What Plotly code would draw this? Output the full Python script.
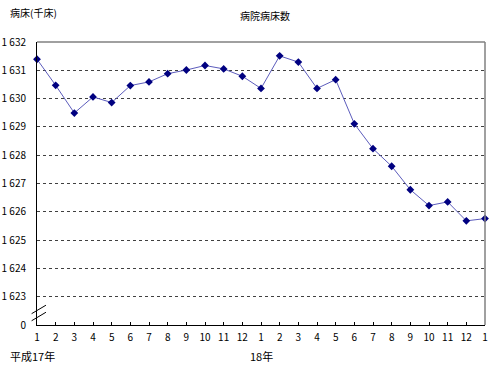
import plotly.graph_objects as go

months = ["1","2","3","4","5","6","7","8","9","10","11","12",
          "1","2","3","4","5","6","7","8","9","10","11","12","1"]
beds = [1631.39, 1630.47, 1629.49, 1630.06, 1629.86, 1630.46, 1630.59, 1630.88,
        1631.01, 1631.17, 1631.05, 1630.79, 1630.36, 1631.51, 1631.29, 1630.36,
        1630.67, 1629.11, 1628.23, 1627.61, 1626.78, 1626.22, 1626.35, 1625.68,
        1625.76]
ytick_vals = [1622, 1623, 1624, 1625, 1626, 1627, 1628, 1629, 1630, 1631, 1632]
ytick_text = ["0", "1 623", "1 624", "1 625", "1 626", "1 627", "1 628",
              "1 629", "1 630", "1 631", "1 632"]
year_labels = ["平成17年", "18年"]

xs = list(range(len(months)))
font = "Noto Sans CJK JP"

fig = go.Figure()
fig.add_trace(go.Scatter(
    x=xs, y=beds, mode="lines+markers",
    line=dict(color="#5c5cbc", width=1),
    marker=dict(symbol="diamond", size=6, color="#000080"),
    cliponaxis=False, showlegend=False,
))

fig.update_layout(
    width=493, height=370,
    margin=dict(l=37, r=8, t=42, b=45, autoexpand=False),
    plot_bgcolor="white", paper_bgcolor="white",
    font=dict(family=font, size=10, color="black"),
    xaxis=dict(
        range=[0, len(months) - 1], tickvals=xs, ticktext=months,
        showgrid=False, zeroline=False, automargin=False,
        showline=True, linecolor="black", linewidth=1,
        ticks="inside", ticklen=3, tickcolor="black",
        ticklabelstandoff=3, tickfont=dict(size=10, family=font),
    ),
    yaxis=dict(
        range=[1622, 1632], tickvals=ytick_vals, ticktext=ytick_text,
        showgrid=True, gridcolor="#404040", griddash="dot", gridwidth=1,
        zeroline=False, showline=True, linecolor="black", linewidth=1,
        automargin=False,
        ticks="", ticklabelstandoff=8, tickfont=dict(size=10, family=font),
    ),
    shapes=[
        dict(type="line", xref="paper", yref="paper", x0=0, x1=1, y0=1, y1=1,
             line=dict(color="#808080", width=1.5)),
        dict(type="line", xref="paper", yref="paper", x0=1, x1=1, y0=0, y1=1,
             line=dict(color="#808080", width=1.5)),
        dict(type="line", xref="paper", yref="paper", x0=-0.012, x1=0.02,
             y0=0.015, y1=0.045, line=dict(color="black", width=1)),
        dict(type="line", xref="paper", yref="paper", x0=-0.012, x1=0.02,
             y0=0.040, y1=0.070, line=dict(color="black", width=1)),
    ],
    annotations=[
        dict(text="病院病床数", xref="paper", yref="paper", x=0.51, y=1.0,
             yshift=27, showarrow=False, xanchor="center", yanchor="middle",
             font=dict(size=10, family=font)),
        dict(text="病床(千床)", xref="paper", yref="paper", x=-0.065, y=1.0,
             yshift=30, showarrow=False, xanchor="left", yanchor="middle",
             font=dict(size=10, family=font)),
        dict(text=year_labels[0], xref="paper", yref="paper", x=-0.065, y=0,
             yshift=-31, showarrow=False, xanchor="left", yanchor="middle",
             font=dict(size=11, family=font)),
        dict(text=year_labels[1], xref="x", yref="paper", x=12, y=0,
             yshift=-31, showarrow=False, xanchor="center", yanchor="middle",
             font=dict(size=11, family=font)),
    ],
)

fig.write_html("out.html", config={"displayModeBar": False},
               post_script="document.body.style.margin='0';")
